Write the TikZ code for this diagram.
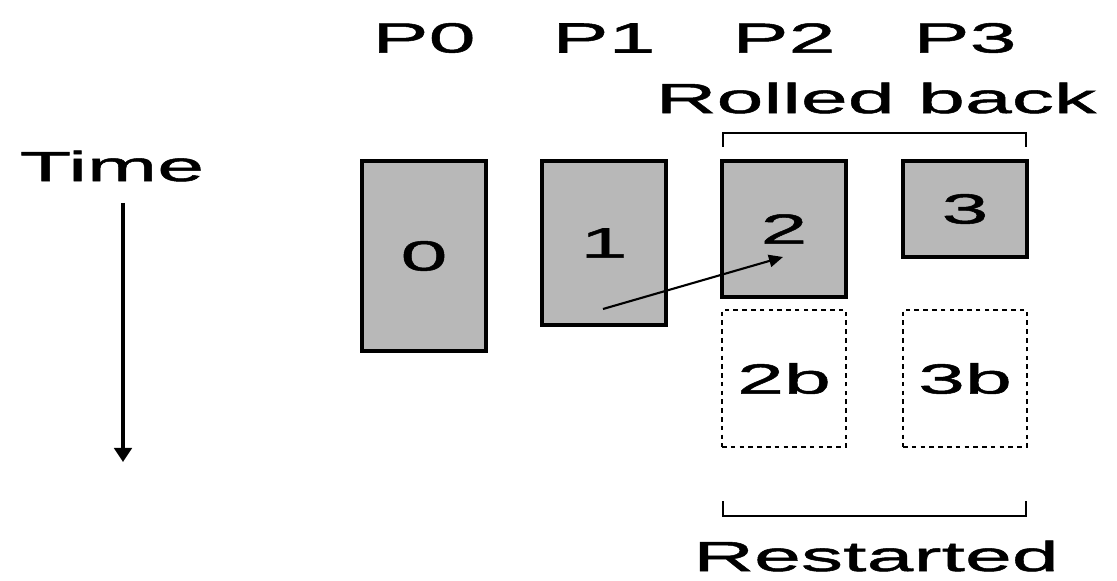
\documentclass[tikz,border=0pt]{standalone}
\usepackage{fontspec}
\setmainfont{Liberation Sans}[FakeStretch=2.0, FakeBold=1.2]
\usepackage{tikz}
\usetikzlibrary{arrows.meta}

\begin{document}
\begin{tikzpicture}[
x=0.02cm, y=-0.02cm,
font=\fontsize{24}{28}\selectfont,
proc/.style={draw=black, line width=1.9pt, fill=black!28, inner sep=0pt,
  minimum width=2.48cm},
redo/.style={draw=black, line width=1.5pt, dash pattern=on 2.6pt off 2.4pt,
  fill=white, inner sep=0pt, minimum width=2.48cm},
lbl/.style={inner sep=0pt},
bracket/.style={line width=1.4pt, black},
timearrow/.style={-{Triangle[length=8pt, width=10pt]}, line width=1.8pt},
msgarrow/.style={-{Triangle[length=8pt, width=7pt]}, line width=1.2pt}
]
\useasboundingbox (0,0) rectangle (1117,581);

% process headers
\node[lbl] (p0) at (424,38) {P0};
\node[lbl] (p1) at (604,38) {P1};
\node[lbl] (p2) at (784,38) {P2};
\node[lbl] (p3) at (965,38) {P3};

% executed work
\node[proc, minimum height=3.8cm] (b0) at (424,256) {0};
\node[proc, minimum height=3.28cm] (b1) at (604,243) {1};
\node[proc, minimum height=2.72cm] (b2) at (784,229) {2};
\node[proc, minimum height=1.92cm] (b3) at (965,209) {3};

% re-executed work
\node[redo, minimum height=2.74cm] (b2r) at (784,378.5) {2b};
\node[redo, minimum height=2.74cm] (b3r) at (965,378.5) {3b};

% late message
\coordinate (send) at (603,309);
\coordinate (recv) at (783,257);
\draw[msgarrow] (send) -- (recv);

% time axis
\node[lbl] (time) at (112,166) {Time};
\coordinate (tstart) at (123,203);
\coordinate (tend) at (123,462);
\draw[timearrow] (tstart) -- (tend);

% brackets
\draw[bracket] (723,147) -- (723,133) -- (1026,133) -- (1026,147);
\node[lbl] (rolled) at (876,98) {Rolled back};
\draw[bracket] (723,501) -- (723,516) -- (1026,516) -- (1026,501);
\node[lbl] (restart) at (876,556) {Restarted};
\end{tikzpicture}
\end{document}
